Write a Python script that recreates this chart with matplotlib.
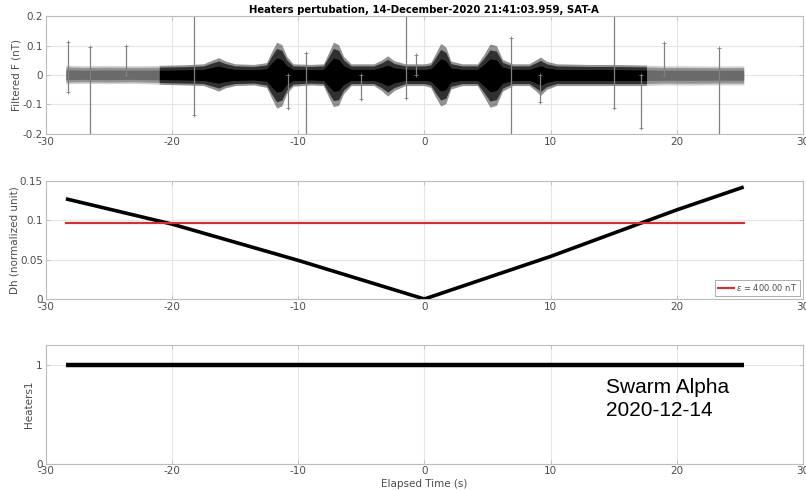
import numpy as np
import matplotlib.pyplot as plt

# ---- panel 1: envelope of the filtered F noise band ----
t_env = [-28.4, -27.0, -25.0, -23.0, -21.0, -19.0, -17.5, -16.8, -16.3, -15.8,
         -15.0, -13.5, -12.5, -12.1, -11.7, -11.3, -10.9, -10.4, -9.0, -8.0,
         -7.6, -7.2, -6.8, -6.4, -5.8, -4.0, -3.4, -2.9, -2.4, -1.5,
         0.0, 0.5, 0.9, 1.3, 1.7, 2.1, 3.0, 4.2, 4.7, 5.2,
         5.7, 6.2, 7.0, 8.3, 8.8, 9.2, 9.7, 10.5, 13.0, 15.0,
         17.6, 19.0, 21.0, 23.0, 25.3]
f_up = [0.032, 0.030, 0.031, 0.030, 0.031, 0.033, 0.036, 0.048, 0.056, 0.046,
        0.036, 0.034, 0.040, 0.075, 0.106, 0.098, 0.060, 0.036, 0.034, 0.036,
        0.070, 0.106, 0.098, 0.060, 0.036, 0.036, 0.048, 0.062, 0.046, 0.036,
        0.036, 0.040, 0.070, 0.102, 0.090, 0.045, 0.036, 0.036, 0.065, 0.100,
        0.095, 0.050, 0.036, 0.036, 0.048, 0.058, 0.044, 0.036, 0.034, 0.034,
        0.032, 0.030, 0.030, 0.029, 0.030]
f_lo = [-0.028, -0.027, -0.028, -0.027, -0.030, -0.032, -0.034, -0.044, -0.052, -0.042,
        -0.034, -0.032, -0.040, -0.075, -0.107, -0.100, -0.060, -0.036, -0.032, -0.034,
        -0.070, -0.102, -0.098, -0.060, -0.034, -0.034, -0.050, -0.068, -0.050, -0.034,
        -0.034, -0.040, -0.072, -0.100, -0.092, -0.045, -0.034, -0.034, -0.068, -0.104,
        -0.098, -0.052, -0.034, -0.034, -0.050, -0.066, -0.046, -0.034, -0.034, -0.034,
        -0.034, -0.032, -0.033, -0.032, -0.032]
gray_before = -21.0
gray_after = 17.6

# isolated spikes: time, top, bottom
spk_t = [-28.2, -26.5, -23.6, -18.25, -10.8, -9.4, -5.0, -1.43, -0.63, 6.83, 9.2, 15.06, 17.2, 18.96, 23.36]
spk_top = [0.113, 0.096, 0.099, 0.20, 0.0, 0.073, 0.0, 0.20, 0.068, 0.124, 0.0, 0.20, 0.0, 0.110, 0.090]
spk_bot = [-0.057, -0.20, 0.0, -0.136, -0.113, -0.20, -0.080, -0.079, 0.0, -0.20, -0.090, -0.113, -0.180, 0.0, -0.20]

# ---- panel 2: Dh and threshold ----
dh_t = [-28.4, -20.0, -10.0, 0.0, 10.0, 20.0, 25.3]
dh_v = [0.127, 0.095, 0.049, 0.0, 0.054, 0.113, 0.142]
thr_t = [-28.4, 25.3]
thr_v = [0.0967, 0.0967]

# ---- panel 3: heater flag ----
ht_t = [-28.4, 25.3]
ht_v = [1, 1]

xticks = [-30, -20, -10, 0, 10, 20, 30]
tick_gray = '#4d4d4d'
box_gray = '#bdbdbd'
grid_gray = '#e6e6e6'

fig = plt.figure(figsize=(8.06, 4.91), dpi=100)
W = 0.9396
ax1 = fig.add_axes([0.0567, 0.7271, W, 0.2403])
ax2 = fig.add_axes([0.0567, 0.3910, W, 0.2410])
ax3 = fig.add_axes([0.0567, 0.0556, W, 0.2410])


def style(ax):
    ax.set_xlim(-30, 30)
    ax.set_xticks(xticks)
    ax.grid(True, color=grid_gray, lw=0.8)
    ax.set_axisbelow(True)
    for s in ax.spines.values():
        s.set_color(box_gray)
        s.set_linewidth(0.8)
    ax.tick_params(direction='in', length=3, width=0.6, color=box_gray,
                   labelcolor=tick_gray, labelsize=7.5, top=True, right=True, pad=2)


# panel 1: noise band drawn in layers (sparse edge, dense core)
t = np.array(t_env)
up = np.array(f_up)
lo = np.array(f_lo)
mid = (t >= gray_before) & (t <= gray_after)
for k, a in [(1.05, 0.3), (0.85, 0.6), (0.55, 1.0)]:
    ax1.fill_between(t, up * k, lo * k, color='#6a6a6a', alpha=a, lw=0)
    ax1.fill_between(t, up * k, lo * k, where=mid, color='black', alpha=a, lw=0)
ax1.vlines(spk_t, spk_bot, spk_top, color='#808080', lw=0.9)
ax1.plot(spk_t, spk_top, '+', color='#808080', ms=3, mew=0.6)
ax1.plot(spk_t, spk_bot, '+', color='#808080', ms=3, mew=0.6)
style(ax1)
ax1.set_ylim(-0.2, 0.2)
ax1.set_yticks([-0.2, -0.1, 0, 0.1, 0.2])
ax1.set_yticklabels(['-0.2', '-0.1', '0', '0.1', '0.2'])
ax1.set_xticklabels([str(v) for v in xticks])
ax1.set_ylabel('Filtered F (nT)', color=tick_gray, fontsize=7.5)
ax1.yaxis.set_label_coords(-0.032, 0.5)
ax1.set_title('Heaters pertubation, 14-December-2020 21:41:03.959, SAT-A',
              fontsize=7.3, fontweight='bold', pad=2)

# panel 2
ax2.plot(dh_t, dh_v, color='black', lw=2.6, solid_capstyle='butt')
ax2.plot(thr_t, thr_v, color='#e8262a', lw=1.5, label=r'$\epsilon$ = 400.00 nT')
style(ax2)
ax2.set_ylim(0, 0.15)
ax2.set_yticks([0, 0.05, 0.1, 0.15])
ax2.set_yticklabels(['0', '0.05', '0.1', '0.15'])
ax2.set_xticklabels([str(v) for v in xticks])
ax2.set_ylabel('Dh (normalized unit)', color=tick_gray, fontsize=7.5)
ax2.yaxis.set_label_coords(-0.035, 0.5)
leg = ax2.legend(loc='lower right', fontsize=6, fancybox=False, framealpha=1,
                 handlelength=2.0, handletextpad=0.2, borderpad=0.3,
                 borderaxespad=0.4, labelcolor=tick_gray)
leg.get_frame().set_edgecolor('#a0a0a0')
leg.get_frame().set_linewidth(0.6)

# panel 3
ax3.plot(ht_t, ht_v, color='black', lw=3.2, solid_capstyle='butt')
style(ax3)
ax3.set_ylim(0, 1.2)
ax3.set_yticks([0, 1])
ax3.set_xticklabels([str(v) for v in xticks])
ax3.set_ylabel('Heaters1', color=tick_gray, fontsize=7.5)
ax3.yaxis.set_label_coords(-0.015, 0.5)
ax3.set_xlabel('Elapsed Time (s)', color=tick_gray, fontsize=7.5, labelpad=2)
ax3.text(14.4, 0.87, 'Swarm Alpha\n2020-12-14', fontsize=15, family='Liberation Sans',
         va='top', ha='left', linespacing=1.3)

fig.savefig('out.png', dpi=100)
